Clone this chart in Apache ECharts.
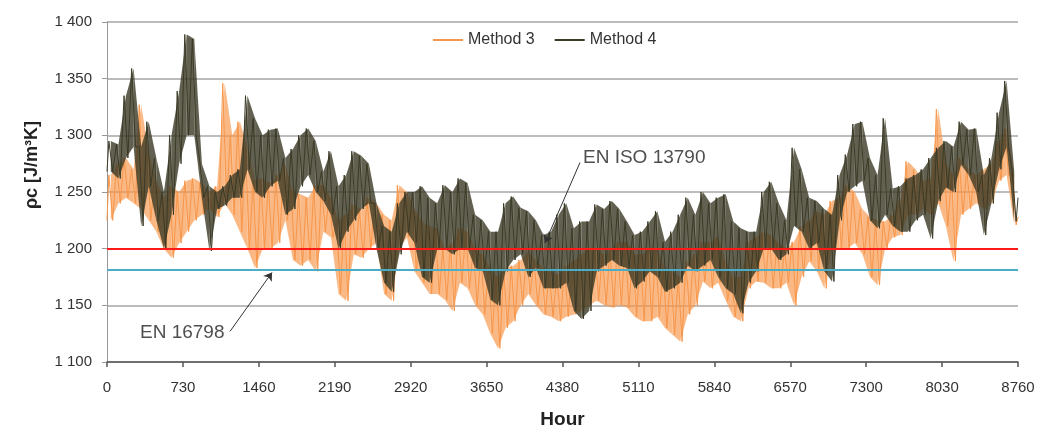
<!DOCTYPE html>
<html>
<head>
<meta charset="utf-8">
<script src="https://cdn.jsdelivr.net/npm/echarts@6/dist/echarts.min.js"></script>
<style>
html,body{margin:0;padding:0;background:#fff;overflow:hidden;}
#chart{width:1048px;height:428px;}
</style>
</head>
<body>
<div id="chart"></div>
<script>
// Hours per bin (each bin: one high and one low reading)
const binHours = 73;
const xTicks = [0, 730, 1460, 2190, 2920, 3650, 4380, 5110, 5840, 6570, 7300, 8030, 8760];
const seriesNames = ['Method 3', 'Method 4'];

// Method 4 (dark) - per bin high/low
const m4Hi = [
  1295,1292,1335,1359,1290,1312,1280,1250,1300,1339,
  1389,1385,1275,1255,1250,1255,1265,1270,1335,1315,
  1300,1305,1306,1280,1288,1300,1306,1295,1268,1286,
  1255,1265,1286,1282,1275,1240,1220,1215,1240,1250,
  1250,1255,1245,1240,1256,1250,1262,1258,1230,1225,
  1215,1215,1240,1246,1236,1233,1225,1212,1215,1230,
  1240,1218,1224,1224,1239,1235,1242,1235,1224,1212,
  1215,1224,1233,1206,1215,1230,1245,1230,1250,1240,
  1245,1248,1224,1218,1215,1215,1250,1259,1240,1225,
  1289,1270,1245,1242,1235,1230,1265,1283,1310,1312,
  1280,1265,1315,1253,1255,1262,1265,1270,1280,1289,
  1295,1290,1312,1305,1306,1265,1280,1320,1348,1268
];
const m4Lo = [
  1268,1262,1280,1290,1220,1255,1225,1200,1230,1275,
  1300,1300,1245,1198,1235,1238,1245,1245,1270,1250,
  1245,1255,1260,1230,1235,1255,1265,1250,1242,1230,
  1200,1215,1225,1235,1240,1200,1170,1162,1195,1215,
  1205,1175,1170,1200,1200,1195,1200,1200,1183,1180,
  1155,1150,1180,1190,1195,1175,1183,1165,1165,1165,
  1170,1145,1138,1145,1180,1185,1190,1185,1183,1165,
  1171,1180,1175,1162,1165,1170,1185,1180,1185,1190,
  1175,1165,1160,1143,1170,1180,1200,1200,1190,1195,
  1220,1215,1200,1205,1180,1171,1225,1250,1255,1260,
  1225,1218,1230,1220,1215,1215,1225,1230,1209,1242,
  1254,1250,1274,1265,1250,1212,1240,1270,1290,1224
];
// Method 3 (orange) - per bin high/low
const m3Hi = [
  1265,1275,1280,1270,1327,1285,1260,1245,1255,1250,
  1260,1262,1258,1250,1255,1346,1300,1312,1290,1260,
  1262,1258,1265,1274,1250,1248,1245,1256,1256,1245,
  1225,1230,1239,1235,1245,1240,1230,1225,1256,1250,
  1235,1224,1220,1218,1200,1205,1218,1215,1200,1195,
  1183,1175,1183,1185,1190,1197,1190,1183,1180,1177,
  1185,1189,1195,1200,1200,1195,1200,1206,1206,1195,
  1195,1200,1200,1183,1180,1175,1189,1195,1206,1206,
  1210,1189,1175,1175,1206,1210,1215,1212,1205,1200,
  1206,1220,1224,1233,1230,1242,1245,1256,1250,1235,
  1228,1225,1224,1230,1242,1277,1270,1260,1262,1323,
  1275,1265,1280,1270,1265,1270,1275,1295,1306,1265
];
const m3Lo = [
  1225,1240,1245,1240,1235,1225,1215,1200,1192,1205,
  1215,1225,1230,1235,1228,1240,1230,1215,1200,1183,
  1200,1200,1205,1225,1190,1185,1190,1180,1215,1210,
  1160,1154,1195,1192,1200,1205,1160,1154,1200,1210,
  1180,1170,1160,1160,1155,1145,1170,1165,1150,1142,
  1125,1112,1130,1136,1150,1160,1150,1142,1140,1136,
  1140,1142,1145,1150,1154,1150,1148,1150,1148,1140,
  1136,1136,1140,1130,1124,1118,1142,1150,1171,1165,
  1170,1154,1140,1136,1165,1171,1170,1165,1165,1170,
  1150,1175,1189,1180,1165,1200,1200,1200,1205,1195,
  1175,1168,1200,1210,1212,1230,1230,1235,1230,1240,
  1220,1189,1230,1235,1240,1235,1240,1260,1265,1221
];
const m3End = 1228, m4End = 1245;

// Reference values
const isoValue = 1200;   // EN ISO 13790
const enValue = 1181;    // EN 16798

// Annotations (data coordinates: hour, value)
const annotTexts = [
  {text: 'EN ISO 13790', at: [4577, 1280], from: [4548, 1276], to: [4212, 1205]},
  {text: 'EN 16798', at: [317, 1126], from: [1183, 1127], to: [1587, 1179]}
];

function buildLine(hi, lo, endVal) {
  const out = [[0, lo[0]]];
  for (let k = 0; k < hi.length; k++) {
    out.push([k * binHours + 18, hi[k]]);
    out.push([k * binHours + 55, lo[k]]);
  }
  out.push([8760, endVal]);
  return out;
}
function buildBand(hi, lo) {
  const out = [];
  for (let k = 0; k < hi.length - 1; k++) {
    out.push([k * binHours + 36.5, lo[k], hi[k], (k + 1) * binHours + 36.5, lo[k + 1], hi[k + 1]]);
  }
  return out;
}
function bandRender(color, opacity) {
  return function (params, api) {
    const a1 = api.coord([api.value(0), api.value(2)]);
    const b1 = api.coord([api.value(3), api.value(5)]);
    const b0 = api.coord([api.value(3), api.value(4)]);
    const a0 = api.coord([api.value(0), api.value(1)]);
    return {
      type: 'polygon',
      shape: {points: [a1, b1, b0, a0]},
      style: {fill: color, opacity: opacity}
    };
  };
}

const c3 = '#f7964a', c4 = '#3b3a26';
const chart = echarts.init(document.getElementById('chart'), null, {renderer: 'canvas'});
const font = 'Liberation Sans, Arial, sans-serif';
chart.setOption({
  animation: false,
  backgroundColor: '#fff',
  grid: {left: 107, right: 30, top: 22, bottom: 66, outerBoundsMode: 'none', containLabel: false},
  legend: {
    data: [{name: seriesNames[0], icon: 'rect'}, {name: seriesNames[1], icon: 'rect'}],
    left: 428, top: 27,
    itemWidth: 30, itemHeight: 2, itemGap: 20,
    textStyle: {fontFamily: font, fontSize: 16, color: '#333'}
  },
  xAxis: {
    type: 'value', min: 0, max: 8760, interval: 730,
    name: 'Hour', nameLocation: 'middle', nameGap: 48,
    nameTextStyle: {fontFamily: font, fontSize: 19, fontWeight: 'bold', color: '#222'},
    axisLine: {lineStyle: {color: '#555', width: 1.5}},
    axisTick: {show: true, length: 5, lineStyle: {color: '#555', width: 1.5}},
    axisLabel: {margin: 18, fontFamily: font, fontSize: 15, color: '#333',
      formatter: v => xTicks.indexOf(v) >= 0 ? String(v) : ''},
    splitLine: {show: false}
  },
  yAxis: {
    type: 'value', min: 1100, max: 1400, interval: 50,
    name: 'ρc [J/m³K]', nameLocation: 'middle', nameGap: 66,
    nameTextStyle: {fontFamily: font, fontSize: 18, fontWeight: 'bold', color: '#222',
      padding: [0, 0, 0, 54]},
    axisLine: {show: true, lineStyle: {color: '#999', width: 1}},
    axisTick: {show: true, length: 5, lineStyle: {color: '#999'}},
    axisLabel: {margin: 15, fontFamily: font, fontSize: 15, color: '#333',
      formatter: v => String(v).replace(/(\d)(\d{3})$/, '$1 $2')},
    splitLine: {lineStyle: {color: '#a6a6a6', width: 1.5}}
  },
  series: [
    {
      name: 'band3', type: 'custom', renderItem: bandRender(c3, 0.68),
      data: buildBand(m3Hi, m3Lo), encode: {x: [0, 3], y: [1, 2, 4, 5]},
      silent: true, z: 1
    },
    {
      name: seriesNames[0], type: 'line', data: buildLine(m3Hi, m3Lo, m3End),
      symbol: 'none', showSymbol: false,
      lineStyle: {color: c3, width: 1}, itemStyle: {color: c3},
      z: 2
    },
    {
      name: 'band4', type: 'custom', renderItem: bandRender(c4, 0.8),
      data: buildBand(m4Hi, m4Lo), encode: {x: [0, 3], y: [1, 2, 4, 5]},
      silent: true, z: 3
    },
    {
      name: seriesNames[1], type: 'line', data: buildLine(m4Hi, m4Lo, m4End),
      symbol: 'none', showSymbol: false,
      lineStyle: {color: c4, width: 1}, itemStyle: {color: c4},
      z: 4,
      markLine: {
        silent: true, symbol: 'none', label: {show: false}, z: 6,
        data: [
          {yAxis: isoValue, lineStyle: {color: '#ff1a1a', width: 2, type: 'solid'}},
          {yAxis: enValue, lineStyle: {color: '#4bacc6', width: 2, type: 'solid'}}
        ]
      }
    },
    {
      name: 'arrows', type: 'lines', coordinateSystem: 'cartesian2d',
      symbol: ['none', 'arrow'], symbolSize: 8, z: 7,
      lineStyle: {color: '#333', width: 1, opacity: 1},
      data: annotTexts.map(a => ({coords: [a.from, a.to]}))
    },
    {
      name: 'labels', type: 'scatter', symbolSize: 0, z: 7,
      data: annotTexts.map(a => ({value: a.at, name: a.text})),
      label: {show: true, position: 'right', distance: 0, formatter: p => p.name,
        fontFamily: font, fontSize: 19, color: '#222'}
    }
  ]
});
</script>
</body>
</html>
